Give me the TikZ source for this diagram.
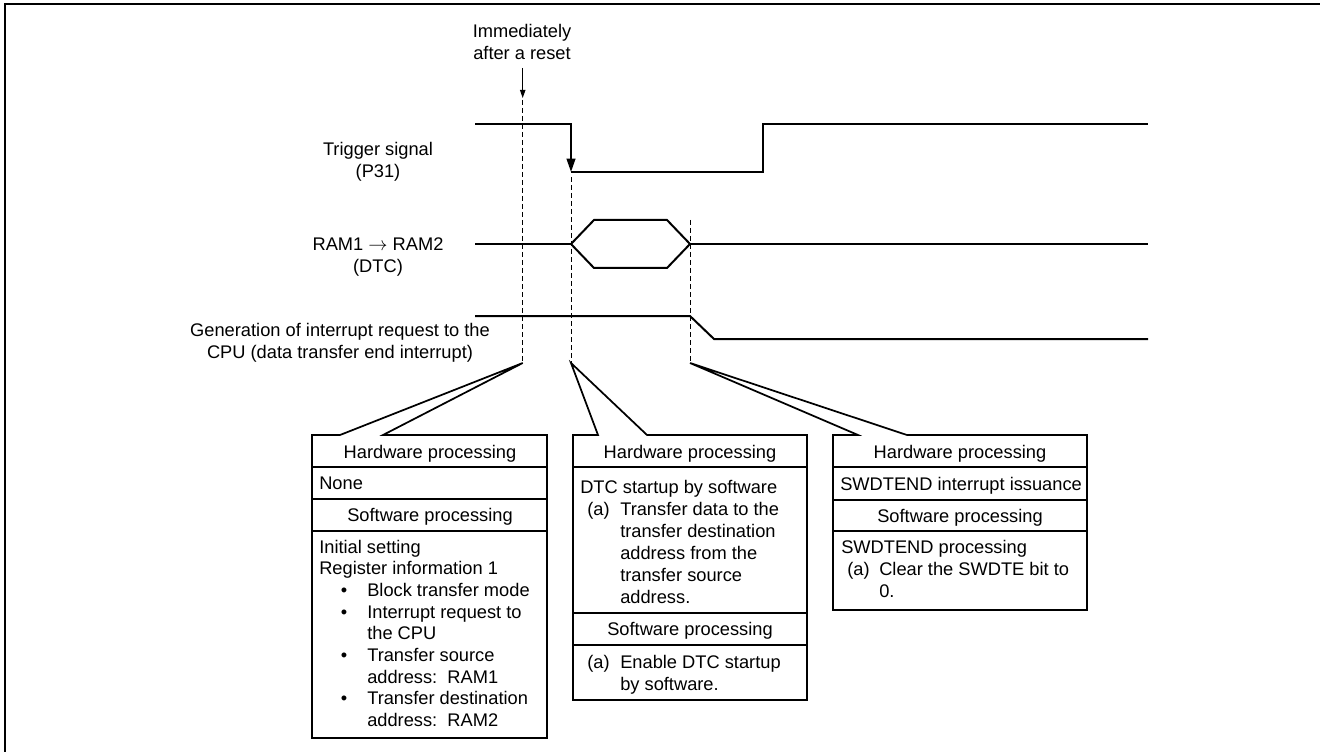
\documentclass[tikz,border=0pt]{standalone}
\usepackage{fontspec}
\setmainfont{Liberation Sans}
\usetikzlibrary{arrows.meta}
\begin{document}
\begin{tikzpicture}[x=0.75pt,y=-0.75pt,
  font=\fontsize{13.7pt}{16.3pt}\selectfont,
  sig/.style={line width=1.5pt, line join=miter},
  guide/.style={line width=0.75pt, dash pattern=on 3.75pt off 2.25pt},
  bx/.style={line width=1.3pt, line join=miter},
  sepline/.style={line width=1.3pt},
  lbl/.style={inner sep=0pt, align=center},
  txt/.style={inner sep=0pt, anchor=base west},
  hdr/.style={inner sep=0pt, anchor=base},
]
\useasboundingbox (0,0) rectangle (1320,752);
% frame
\coordinate (fTL) at (5,4); \coordinate (fTR) at (1320,4); \coordinate (fBL) at (5,752);
\draw[line width=1.5pt] (fTR) -- (fTL) -- (fBL);

% signal labels
\node[lbl] (imm) at (522,42) {Immediately\\after a reset};
\node[lbl] (trg) at (378,162) {Trigger signal\\(P31)};
\node[lbl] (ram) at (378,257) {RAM1 $\rightarrow$ RAM2\\(DTC)};
\node[lbl] (irq) at (340,343) {Generation of interrupt request to the\\CPU (data transfer end interrupt)};

% reset arrow
\coordinate (a0) at (522.7,68); \coordinate (a1) at (522.7,98);
\draw[line width=0.75pt,-{Triangle[length=6pt,width=4pt]}] (a0) -- (a1);

% guide lines
\coordinate (d1t) at (522.7,100); \coordinate (d1b) at (522.7,363);
\coordinate (d2t) at (571,177);   \coordinate (d2b) at (571,363);
\coordinate (d3t) at (690,220);   \coordinate (d3b) at (690,363);
\draw[guide] (d1t) -- (d1b);
\draw[guide] (d2t) -- (d2b);
\draw[guide] (d3t) -- (d3b);

% trigger signal
\coordinate (t0) at (475,124); \coordinate (t1) at (571,124); \coordinate (t2) at (571,172);
\coordinate (t3) at (763,172); \coordinate (t4) at (763,124); \coordinate (t5) at (1148,124);
\draw[sig,-{Triangle[length=10pt,width=6.5pt]}] (t0) -- (t1) -- (t2);
\draw[sig] (t2) -- (t3) -- (t4) -- (t5);

% RAM1 -> RAM2 bus
\coordinate (r0) at (475,244); \coordinate (h1) at (571,244); \coordinate (h2) at (594,220);
\coordinate (h3) at (667,220); \coordinate (h4) at (690,244); \coordinate (h5) at (667,268);
\coordinate (h6) at (594,268); \coordinate (r1) at (1148,244);
\draw[sig] (r0) -- (h1);
\draw[sig] (h1) -- (h2) -- (h3) -- (h4) -- (h5) -- (h6) -- cycle;
\draw[sig] (h4) -- (r1);

% interrupt request
\coordinate (i0) at (475,316); \coordinate (i1) at (690,316);
\coordinate (i2) at (714,339); \coordinate (i3) at (1148,339);
\draw[sig] (i0) -- (i1) -- (i2) -- (i3);

% box 1
\draw[bx] (d1b) -- (383,435) -- (547,435) -- (547,738) -- (312,738) -- (312,435) -- (340,435) -- cycle;
\draw[sepline] (312,467) -- (547,467);
\draw[sepline] (312,499) -- (547,499);
\draw[sepline] (312,531) -- (547,531);
\node[hdr] (b1h) at (430,458) {Hardware processing};
\node[txt] (b1n) at (319,489) {None};
\node[hdr] (b1s) at (430,521) {Software processing};
\node[txt] (b1l0) at (319,553) {Initial setting};
\node[txt] (b1l1) at (319,574.7) {Register information 1};
\node[hdr] (b1b1) at (344,596.4) {\textbullet};
\node[txt] (b1l2) at (367,596.4) {Block transfer mode};
\node[hdr] (b1b2) at (344,618.1) {\textbullet};
\node[txt] (b1l3) at (367,618.1) {Interrupt request to};
\node[txt] (b1l4) at (367,639.8) {the CPU};
\node[hdr] (b1b3) at (344,661.5) {\textbullet};
\node[txt] (b1l5) at (367,661.5) {Transfer source};
\node[txt] (b1l6) at (367,683.2) {address:\ \ RAM1};
\node[hdr] (b1b4) at (344,704.9) {\textbullet};
\node[txt] (b1l7) at (367,704.9) {Transfer destination};
\node[txt] (b1l8) at (367,726.6) {address:\ \ RAM2};

% box 2
\draw[bx] (d2b) -- (647,435) -- (807,435) -- (807,700) -- (573,700) -- (573,435) -- (598,435) -- cycle;
\draw[sepline] (573,467) -- (807,467);
\draw[sepline] (573,613) -- (807,613);
\draw[sepline] (573,645) -- (807,645);
\node[hdr] (b2h) at (690,458) {Hardware processing};
\node[txt] (b2l0) at (580,493) {DTC startup by software};
\node[txt] (b2a) at (587,515) {(a)};
\node[txt] (b2l1) at (620,515) {Transfer data to the};
\node[txt] (b2l2) at (620,537) {transfer destination};
\node[txt] (b2l3) at (620,559) {address from the};
\node[txt] (b2l4) at (620,581) {transfer source};
\node[txt] (b2l5) at (620,603) {address.};
\node[hdr] (b2s) at (690,635) {Software processing};
\node[txt] (b2b) at (587,668) {(a)};
\node[txt] (b2l6) at (620,668) {Enable DTC startup};
\node[txt] (b2l7) at (620,690) {by software.};

% box 3
\draw[bx] (d3b) -- (907,435) -- (1087,435) -- (1087,610) -- (833,610) -- (833,435) -- (858,435) -- cycle;
\draw[sepline] (833,467) -- (1087,467);
\draw[sepline] (833,500) -- (1087,500);
\draw[sepline] (833,531) -- (1087,531);
\node[hdr] (b3h) at (960,458) {Hardware processing};
\node[txt] (b3l0) at (840,490) {SWDTEND interrupt issuance};
\node[hdr] (b3s) at (960,522) {Software processing};
\node[txt] (b3l1) at (841,553) {SWDTEND processing};
\node[txt] (b3a) at (847,575) {(a)};
\node[txt] (b3l2) at (879,575) {Clear the SWDTE bit to};
\node[txt] (b3l3) at (879,597) {0.};
\end{tikzpicture}
\end{document}
